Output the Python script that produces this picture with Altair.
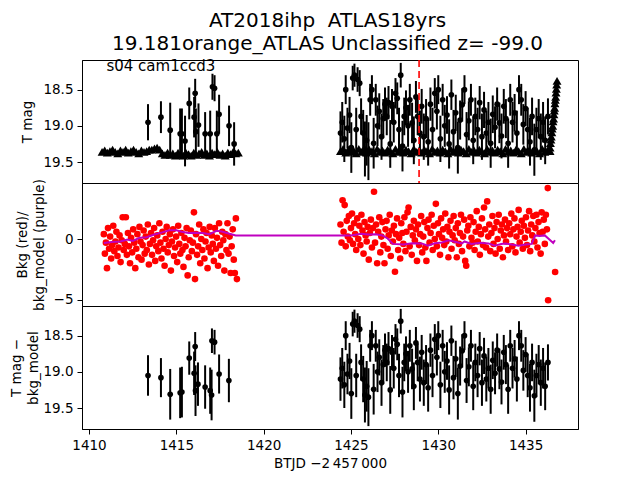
import altair as alt
import pandas as pd

FONT = "DejaVu Sans"

# ---------------- top panel: detections, first segment ----------------
top_t1 = [1413.38, 1414.12, 1414.65, 1415.22, 1415.32, 1415.50, 1415.74, 1416.02, 1416.08, 1416.12,
          1416.27, 1416.65, 1416.94, 1417.07, 1417.19, 1417.32, 1417.45, 1418.02, 1418.31]
top_mag1 = [18.95, 18.88, 19.06, 19.11, 19.11, 19.21, 18.69, 18.88, 18.55, 19.08,
            18.99, 19.11, 19.11, 18.46, 18.48, 19.11, 18.84, 19.00, 19.25]
top_err1 = [0.25, 0.22, 0.38, 0.35, 0.35, 0.35, 0.22, 0.28, 0.20, 0.32,
            0.30, 0.30, 0.32, 0.18, 0.18, 0.32, 0.27, 0.28, 0.30]

# ---------------- bottom panel: detections, first segment ----------------
bot_t1 = [1413.38, 1414.12, 1414.65, 1415.22, 1415.32, 1415.74, 1416.02, 1416.08, 1416.10, 1416.24,
          1416.65, 1416.94, 1417.02, 1417.04, 1417.19, 1417.45, 1418.01]
bot_mag1 = [19.05, 19.08, 19.31, 19.29, 19.28, 18.81, 19.02, 18.65, 19.26, 19.17,
            19.21, 19.26, 19.32, 18.57, 18.59, 19.03, 19.12]
bot_err1 = [0.28, 0.27, 0.35, 0.35, 0.35, 0.23, 0.30, 0.20, 0.35, 0.30,
            0.30, 0.32, 0.35, 0.17, 0.17, 0.27, 0.30]

# ---------------- detections, second segment (both panels) ----------------
seg2_t = [1424.40, 1424.50, 1424.62, 1424.70, 1424.80, 1424.92, 1425.02, 1425.10, 1425.20, 1425.30,
          1425.38, 1425.50, 1425.58, 1425.70, 1425.80, 1425.90, 1426.00, 1426.10, 1426.20, 1426.30,
          1426.42, 1426.52, 1426.62, 1426.75, 1426.85, 1426.95, 1427.05, 1427.15, 1427.25, 1427.35,
          1427.45, 1427.55, 1427.65, 1427.75, 1427.85, 1427.95, 1428.05, 1428.15, 1428.27, 1428.37,
          1428.50, 1428.60, 1428.72, 1428.82, 1428.95, 1429.05, 1429.17, 1429.30, 1429.42, 1429.55,
          1429.67, 1429.80, 1429.92, 1430.00, 1430.12, 1430.25, 1430.37, 1430.50, 1430.62, 1430.75,
          1430.87, 1431.00, 1431.12, 1431.25, 1431.37, 1431.50, 1431.62, 1431.75, 1431.87, 1432.00,
          1432.12, 1432.25, 1432.37, 1432.50, 1432.62, 1432.75, 1432.87, 1433.00, 1433.12, 1433.25,
          1433.37, 1433.50, 1433.62, 1433.75, 1433.87, 1434.00, 1434.12, 1434.25, 1434.37, 1434.50,
          1434.62, 1434.75, 1434.87, 1435.00, 1435.12, 1435.25, 1435.37, 1435.50, 1435.62, 1435.75,
          1435.87, 1436.00, 1436.12, 1436.28]
seg2_mag = [19.10, 18.95, 19.18, 18.50, 19.03, 18.85, 19.30, 18.34, 18.30, 19.05,
            18.36, 18.41, 18.87, 19.10, 19.32, 19.20, 19.35, 18.64, 18.50, 19.24,
            18.64, 19.00, 18.80, 19.15, 18.90, 18.70, 18.87, 18.68, 19.25, 18.73,
            18.95, 18.55, 18.62, 19.05, 18.30, 19.28, 18.87, 18.75, 19.00, 18.64,
            18.96, 19.20, 18.60, 18.87, 19.10, 18.73, 19.15, 18.90, 19.22, 18.70,
            19.05, 18.55, 18.80, 18.50, 19.18, 18.64, 19.00, 18.85, 19.25, 18.57,
            19.08, 18.82, 19.30, 18.92, 18.71, 18.50, 19.12, 18.93, 18.64, 19.20,
            18.87, 19.05, 18.68, 19.15, 18.78, 19.10, 18.95, 19.24, 18.84, 19.02,
            18.70, 18.96, 19.14, 18.73, 18.90, 19.24, 18.64, 18.95, 18.82, 19.10,
            18.50, 18.64, 18.98, 18.76, 19.05, 19.22, 18.87, 19.33, 19.05, 18.90,
            19.15, 18.95, 19.20, 18.87]
seg2_err = [0.30, 0.28, 0.32, 0.20, 0.28, 0.25, 0.35, 0.17, 0.16, 0.30,
            0.17, 0.18, 0.25, 0.32, 0.38, 0.35, 0.40, 0.22, 0.20, 0.35,
            0.22, 0.28, 0.25, 0.32, 0.27, 0.23, 0.26, 0.23, 0.33, 0.24,
            0.28, 0.21, 0.22, 0.30, 0.17, 0.35, 0.26, 0.24, 0.29, 0.22,
            0.28, 0.33, 0.22, 0.26, 0.31, 0.24, 0.32, 0.27, 0.33, 0.23,
            0.30, 0.21, 0.25, 0.20, 0.32, 0.22, 0.29, 0.26, 0.34, 0.21,
            0.30, 0.25, 0.36, 0.27, 0.23, 0.20, 0.31, 0.27, 0.22, 0.33,
            0.26, 0.30, 0.23, 0.32, 0.25, 0.31, 0.28, 0.34, 0.26, 0.29,
            0.23, 0.28, 0.31, 0.24, 0.27, 0.34, 0.22, 0.28, 0.26, 0.31,
            0.20, 0.22, 0.28, 0.24, 0.30, 0.33, 0.26, 0.36, 0.30, 0.27,
            0.32, 0.28, 0.33, 0.25]

# ---------------- top panel: limit markers ----------------
lim_t1 = [1410.75, 1410.90, 1411.05, 1411.20, 1411.35, 1411.50, 1411.65, 1411.80, 1411.95, 1412.10,
          1412.25, 1412.40, 1412.55, 1412.70, 1412.85, 1413.00, 1413.15, 1413.30, 1413.45, 1413.60,
          1413.75, 1413.90, 1414.05, 1414.20, 1414.35, 1414.50, 1414.65, 1414.80, 1414.95, 1415.10,
          1415.25, 1415.40, 1415.55, 1415.70, 1415.85, 1416.00, 1416.15, 1416.30, 1416.45, 1416.60,
          1416.75, 1416.90, 1417.05, 1417.20, 1417.35, 1417.50, 1417.65, 1417.80, 1417.95, 1418.10,
          1418.25, 1418.40, 1418.55]
lim_mag1 = [19.36, 19.34, 19.37, 19.35, 19.33, 19.36, 19.38, 19.34, 19.36, 19.33,
            19.37, 19.35, 19.33, 19.36, 19.38, 19.34, 19.36, 19.35, 19.33, 19.33,
            19.31, 19.30, 19.33, 19.38, 19.40, 19.37, 19.40, 19.38, 19.41, 19.37,
            19.39, 19.41, 19.37, 19.39, 19.41, 19.37, 19.40, 19.38, 19.36, 19.40,
            19.38, 19.41, 19.37, 19.39, 19.36, 19.40, 19.38, 19.41, 19.37, 19.39,
            19.36, 19.38, 19.37]
lim_t2 = [1424.40, 1424.55, 1424.70, 1424.85, 1425.00, 1425.15, 1425.30, 1425.45, 1425.60, 1425.75,
          1425.90, 1426.05, 1426.20, 1426.35, 1426.50, 1426.65, 1426.80, 1426.95, 1427.10, 1427.25,
          1427.40, 1427.55, 1427.70, 1427.85, 1428.00, 1428.15, 1428.30, 1428.45, 1428.60, 1428.75,
          1428.90, 1429.05, 1429.20, 1429.35, 1429.50, 1429.65, 1429.80, 1429.95, 1430.10, 1430.25,
          1430.40, 1430.55, 1430.70, 1430.85, 1431.00, 1431.15, 1431.30, 1431.45, 1431.60, 1431.75,
          1431.90, 1432.05, 1432.20, 1432.35, 1432.50, 1432.65, 1432.80, 1432.95, 1433.10, 1433.25,
          1433.40, 1433.55, 1433.70, 1433.85, 1434.00, 1434.15, 1434.30, 1434.45, 1434.60, 1434.75,
          1434.90, 1435.05, 1435.20, 1435.35, 1435.50, 1435.65, 1435.80, 1435.95, 1436.10, 1436.25,
          1436.40]
lim_mag2 = [19.35, 19.32, 19.37, 19.33, 19.36, 19.34, 19.38, 19.32, 19.36, 19.34,
            19.37, 19.33, 19.35, 19.38, 19.32, 19.36, 19.34, 19.37, 19.33, 19.35,
            19.38, 19.32, 19.36, 19.34, 19.37, 19.33, 19.35, 19.38, 19.32, 19.36,
            19.34, 19.37, 19.33, 19.35, 19.38, 19.32, 19.36, 19.34, 19.37, 19.33,
            19.35, 19.38, 19.32, 19.36, 19.34, 19.37, 19.33, 19.35, 19.38, 19.32,
            19.36, 19.34, 19.37, 19.33, 19.35, 19.38, 19.32, 19.36, 19.34, 19.37,
            19.33, 19.35, 19.38, 19.32, 19.36, 19.34, 19.37, 19.33, 19.35, 19.38,
            19.32, 19.36, 19.34, 19.37, 19.33, 19.35, 19.38, 19.32, 19.36, 19.34,
            19.35]
stack_t = [1436.40, 1436.42, 1436.45, 1436.47, 1436.50, 1436.52, 1436.55, 1436.57, 1436.60, 1436.62,
           1436.64, 1436.66, 1436.68, 1436.70, 1436.72, 1436.74, 1436.76, 1436.78, 1436.80]
stack_mag = [19.30, 19.24, 19.19, 19.15, 19.09, 19.04, 19.00, 18.94, 18.90, 18.84,
             18.79, 18.75, 18.69, 18.64, 18.60, 18.54, 18.49, 18.43, 18.38]

# ---------------- middle panel: background (red) ----------------
bkg_t1 = [1410.85, 1410.91, 1410.97,
          1411.03, 1411.09, 1411.15, 1411.21, 1411.27, 1411.33, 1411.39, 1411.45, 1411.51, 1411.57,
          1411.63, 1411.69, 1411.75, 1411.81, 1411.87, 1411.93, 1411.99,
          1412.05, 1412.11, 1412.17, 1412.23, 1412.29, 1412.35, 1412.41, 1412.47, 1412.53, 1412.59,
          1412.65, 1412.71, 1412.77, 1412.83, 1412.89, 1412.95,
          1413.01, 1413.07, 1413.13, 1413.19, 1413.25, 1413.31, 1413.37, 1413.43, 1413.49, 1413.55,
          1413.61, 1413.67, 1413.73, 1413.79, 1413.85, 1413.91, 1413.97,
          1414.03, 1414.09, 1414.15, 1414.21, 1414.27, 1414.33, 1414.39, 1414.45, 1414.51, 1414.57,
          1414.63, 1414.69, 1414.75, 1414.81, 1414.87, 1414.93, 1414.99,
          1415.05, 1415.11, 1415.17, 1415.23, 1415.29, 1415.35, 1415.41, 1415.47, 1415.53, 1415.59,
          1415.65, 1415.71, 1415.77, 1415.83, 1415.89, 1415.95,
          1416.01, 1416.07, 1416.13, 1416.19, 1416.25, 1416.31, 1416.37, 1416.43, 1416.49, 1416.55,
          1416.61, 1416.67, 1416.73, 1416.79, 1416.85, 1416.91, 1416.97,
          1417.03, 1417.09, 1417.15, 1417.21, 1417.27, 1417.33, 1417.39, 1417.45, 1417.51, 1417.57,
          1417.63, 1417.69, 1417.75, 1417.81, 1417.87, 1417.93, 1417.99,
          1418.05, 1418.11, 1418.17, 1418.23, 1418.29, 1418.35, 1418.41, 1418.47]
bkg_v1 = [0.4, -1.2, -0.3,
          -2.4, 0.9, -0.8, 0.2, -1.6, -0.5, 1.1, -1.0, -0.2, 0.6, -1.4, -0.7, 0.3, -1.9, -0.1, 1.8, -0.9,
          -0.4, 1.8, -1.3, 0.5, -0.6, -2.0, 0.1, -1.1, 0.8, -0.3, -2.4, -0.8, 0.4, -1.5, 1.0, -0.2,
          -1.7, -0.5, 0.7, -1.2, 0.2, -0.9, 1.2, -2.1, -0.4, 0.5, -1.3, -0.1, 0.9, -1.8, -0.6, 0.3, -1.0,
          1.3, -0.3, -1.6, 0.6, -0.8, -2.2, 0.0, 1.0, -1.1, -0.5, 0.4, -2.6, -0.2, 0.8, -1.4, -0.7, 0.2,
          -1.9, 1.1, -0.4, -1.2, 0.5, -0.9, -2.3, 0.1, -0.6, 0.9, -3.0, -1.5, -0.1, 0.7, -1.0, -0.3,
          2.2, -3.3, 0.4, -1.3, -0.6, 1.2, -2.0, 0.0, -0.9, 0.8, -1.6, -0.2, 0.5, -2.4, -0.7, 1.0, -1.1,
          0.3, -0.4, -1.8, 0.9, -0.8, 0.1, -2.2, 1.3, -0.5, -1.4, 0.6, -0.1, -2.6, 0.4, -0.9, 1.3, -1.2,
          0.2, -2.8, -0.6, 0.8, -1.7, -2.8, 1.7, -3.3]
bkg_t2 = [1424.40, 1424.46, 1424.52, 1424.58, 1424.64, 1424.70, 1424.76, 1424.82, 1424.88, 1424.94,
          1425.00, 1425.06, 1425.12, 1425.18, 1425.24, 1425.30, 1425.36, 1425.42, 1425.48, 1425.54,
          1425.60, 1425.66, 1425.72, 1425.78, 1425.84, 1425.90, 1425.96,
          1426.02, 1426.08, 1426.14, 1426.20, 1426.26, 1426.32, 1426.38, 1426.44, 1426.50, 1426.56,
          1426.62, 1426.68, 1426.74, 1426.80, 1426.86, 1426.92, 1426.98,
          1427.04, 1427.10, 1427.16, 1427.22, 1427.28, 1427.34, 1427.40, 1427.46, 1427.52, 1427.58,
          1427.64, 1427.70, 1427.76, 1427.82, 1427.88, 1427.94,
          1428.00, 1428.06, 1428.12, 1428.18, 1428.24, 1428.30, 1428.36, 1428.42, 1428.48, 1428.54,
          1428.60, 1428.66, 1428.72, 1428.78, 1428.84, 1428.90, 1428.96,
          1429.02, 1429.08, 1429.14, 1429.20, 1429.26, 1429.32, 1429.38, 1429.44, 1429.50, 1429.56,
          1429.62, 1429.68, 1429.74, 1429.80, 1429.86, 1429.92, 1429.98,
          1430.04, 1430.10, 1430.16, 1430.22, 1430.28, 1430.34, 1430.40, 1430.46, 1430.52, 1430.58,
          1430.64, 1430.70, 1430.76, 1430.82, 1430.88, 1430.94,
          1431.00, 1431.06, 1431.12, 1431.18, 1431.24, 1431.30, 1431.36, 1431.42, 1431.48, 1431.54,
          1431.60, 1431.66, 1431.72, 1431.78, 1431.84, 1431.90, 1431.96,
          1432.02, 1432.08, 1432.14, 1432.20, 1432.26, 1432.32, 1432.38, 1432.44, 1432.50, 1432.56,
          1432.62, 1432.68, 1432.74, 1432.80, 1432.86, 1432.92, 1432.98,
          1433.04, 1433.10, 1433.16, 1433.22, 1433.28, 1433.34, 1433.40, 1433.46, 1433.52, 1433.58,
          1433.64, 1433.70, 1433.76, 1433.82, 1433.88, 1433.94,
          1434.00, 1434.06, 1434.12, 1434.18, 1434.24, 1434.30, 1434.36, 1434.42, 1434.48, 1434.54,
          1434.60, 1434.66, 1434.72, 1434.78, 1434.84, 1434.90, 1434.96,
          1435.02, 1435.08, 1435.14, 1435.20, 1435.26, 1435.32, 1435.38, 1435.44, 1435.50, 1435.56,
          1435.62, 1435.68, 1435.74, 1435.80, 1435.86, 1435.92, 1435.98,
          1436.04, 1436.10, 1436.16, 1436.22, 1436.27, 1436.29, 1436.69]
bkg_v2 = [1.2, -0.3, 3.2, 0.6, 2.8, -0.6, 1.5, 0.2, 1.9, -0.1,
          0.9, 2.1, -0.4, 1.3, 0.4, -0.9, 1.7, 0.0, 1.1, -0.5, 2.0, 0.7, -1.2, 1.4, 0.3, -0.2, 1.0,
          -1.7, 0.5, 1.6, -0.7, 0.9, 3.9, -0.3, 1.2, -2.0, 0.6, 1.8, -1.1, 0.2, 1.4, -0.5, -2.0, 0.8,
          1.5, -0.8, 0.3, 2.0, -1.4, 0.7, -0.2, 1.1, -2.7, 0.4, 1.7, -0.9, 0.1, -1.6, 1.3, 0.5,
          -0.4, 1.8, -1.0, 0.6, 2.2, 2.6, -0.6, 1.0, -1.3, 0.3, 1.5, -0.1, 0.8, -1.8, 1.2, -0.5, 0.4,
          1.9, -1.1, 0.2, 1.4, -0.7, -1.8, 0.9, 1.6, -0.3, 0.5, 2.0, -0.9, 1.1, 0.0, 2.9, -0.6, 1.3,
          0.4, -1.3, 1.7, 0.1, 0.8, -0.5, 2.1, -0.2, 1.0, -1.5, 0.6, 1.5, -0.8, 0.3, 1.9, -0.1,
          0.9, -1.5, 1.3, -0.4, 0.5, 2.0, -1.0, 0.2, 1.6, -1.8, -2.2, 0.7, 1.1, -0.6, 1.8, 0.1, -0.3,
          1.4, -0.9, 0.6, 2.3, -0.2, 1.0, -1.3, 0.4, 1.7, -0.5, 2.6, 0.8, -0.7, 3.1, 0.2, 1.2, -1.0,
          0.5, 1.9, -0.4, 0.9, -1.2, 1.4, 0.0, 2.0, -0.8, 0.7, 1.2, -1.5, 0.3, 1.6, -0.2, 0.9,
          -0.9, 1.3, 0.4, 2.1, -0.6, 0.8, 1.7, -1.1, 0.2, 1.0, 2.4, -0.3, 0.6, 1.5, -0.8, 1.1, 0.1,
          1.8, -0.5, 0.7, 2.3, -1.0, 1.2, 0.3, 1.9, -0.2, 0.9, 2.0, -0.7, 1.4, 0.5, -1.2, 2.2, 0.6,
          1.6, -0.4, 2.0, 0.8, 4.2, -5.05, -2.72]

# ---------------- middle panel: background model (purple) ----------------
model_t = [1410.85, 1411.3, 1411.8, 1412.2, 1412.5, 1412.9, 1413.3, 1413.7, 1414.2, 1414.6,
           1415.0, 1415.3, 1415.7, 1416.1, 1416.5, 1416.9, 1417.3, 1417.6, 1418.0, 1418.4,
           1424.4, 1425.0, 1425.6, 1426.0, 1426.4, 1426.8, 1427.1, 1427.4, 1428.0, 1428.5,
           1429.05, 1429.4, 1429.8, 1430.2, 1430.6, 1431.0, 1431.35, 1431.5, 1431.9, 1432.4,
           1432.87, 1433.25, 1433.6, 1433.85, 1434.2, 1434.6, 1435.0, 1435.35, 1435.55, 1435.8,
           1436.1, 1436.3, 1436.58, 1436.68]
model_v = [-0.33, -0.25, -0.2, -0.05, -0.15, 0.1, 0.15, 0.35, 0.55, 0.72,
           0.72, 0.6, 0.5, 0.52, 0.5, 0.4, 0.68, 0.62, 0.45, 0.3,
           0.3, 0.3, 0.43, 0.38, 0.4, 0.3, 0.05, -0.4, -0.45, -0.35,
           -0.36, -0.55, -0.35, -0.28, -0.1, -0.25, -0.37, -0.2, -0.4, -0.3,
           -0.36, -0.55, -0.4, -0.37, -0.45, -0.55, -0.45, -0.4, 0.3, 0.25,
           0.3, 0.05, -0.32, -0.1]

peak_t = [1428.9]
label_text = ["s04 cam1ccd3"]
label_t = [1411.0]
label_mag = [18.17]

# ---------------- tables ----------------
top_det = pd.DataFrame({"t": top_t1 + seg2_t, "mag": top_mag1 + seg2_mag, "err": top_err1 + seg2_err})
bot_det = pd.DataFrame({"t": bot_t1 + seg2_t, "mag": bot_mag1 + seg2_mag, "err": bot_err1 + seg2_err})
lims = pd.DataFrame({"t": lim_t1 + lim_t2 + stack_t, "mag": lim_mag1 + lim_mag2 + stack_mag})
bkg = pd.DataFrame({"t": bkg_t1 + bkg_t2, "v": bkg_v1 + bkg_v2})
model = pd.DataFrame({"t": model_t, "v": model_v})
peak = pd.DataFrame({"t": peak_t})
label = pd.DataFrame({"t": label_t, "mag": label_mag, "text": label_text})

W, H = 496, 123
xs = alt.Scale(domain=[1409.6, 1438.0], nice=False, zero=False)
ms = alt.Scale(domain=[18.09, 19.79], reverse=True, nice=False, zero=False)
bs = alt.Scale(domain=[-5.52, 4.62], nice=False, zero=False)

x_hidden = alt.Axis(labels=False, ticks=False, domain=False, title=None, grid=False)
x_bottom = alt.Axis(values=[1410, 1415, 1420, 1425, 1430, 1435], format="d",
                    title="BTJD \u22122\u2009457\u2009000", grid=False, labelPadding=4,
                    tickSize=5, titlePadding=5)


def yaxis(values, fmt, title, tx):
    return alt.Axis(values=values, format=fmt, title=title, grid=False, titleX=tx,
                    titleY=H / 2, titleAngle=270, titleAlign="center",
                    titleBaseline="middle", titleLineHeight=17, tickSize=5, labelPadding=4)


def X(axis):
    return alt.X("t:Q", scale=xs, axis=axis)


def mag_panel(det, xaxis, yax, extra=None):
    base = alt.Chart(det)
    bars = base.transform_calculate(
        lo="datum.mag - datum.err", hi="datum.mag + datum.err"
    ).mark_rule(color="black", strokeWidth=2).encode(
        x=X(xaxis), y=alt.Y("lo:Q", scale=ms, axis=yax), y2="hi:Q")
    pts = base.mark_circle(size=32, color="black", opacity=1).encode(
        x=X(xaxis), y=alt.Y("mag:Q", scale=ms, axis=yax))
    layers = [bars, pts]
    if extra:
        layers = extra(xaxis, yax) + layers
    return alt.layer(*layers).properties(width=W, height=H)


top_yax = yaxis([18.5, 19.0, 19.5], ".1f", "T mag", -55)
bot_yax = yaxis([18.5, 19.0, 19.5], ".1f", ["T mag \u2212", "bkg_model"], -66)
mid_yax = yaxis([-5, 0], "d", ["Bkg (red)/", "bkg_model (purple)"], -60)


def top_extra(xaxis, yax):
    lim_layer = alt.Chart(lims).mark_point(shape="triangle-up", filled=True, size=80,
                                           color="black", opacity=1).encode(
        x=X(xaxis), y=alt.Y("mag:Q", scale=ms, axis=yax))
    return [lim_layer]


top_core = mag_panel(top_det, x_hidden, top_yax, top_extra)
peak_rule = alt.Chart(peak).mark_rule(color="red", strokeDash=[7, 4], strokeWidth=1.6).encode(
    x=X(x_hidden))
label_mark = alt.Chart(label).mark_text(align="left", baseline="middle", fontSize=15,
                                        font=FONT, color="black").encode(
    x=X(x_hidden), y=alt.Y("mag:Q", scale=ms, axis=top_yax), text="text:N")
top = alt.layer(top_core, peak_rule, label_mark).properties(width=W, height=H)

mid_pts = alt.Chart(bkg).mark_circle(size=44, color="red", opacity=1).encode(
    x=X(x_hidden), y=alt.Y("v:Q", scale=bs, axis=mid_yax))
mid_line = alt.Chart(model).mark_line(color="#bf00bf", strokeWidth=2).encode(
    x=X(x_hidden), y=alt.Y("v:Q", scale=bs, axis=mid_yax))
mid = alt.layer(mid_pts, mid_line).properties(width=W, height=H)

bot = mag_panel(bot_det, x_bottom, bot_yax)

chart = alt.vconcat(top, mid, bot, spacing=0, bounds="flush").properties(
    title=alt.TitleParams(
        ["AT2018ihp \u00a0ATLAS18yrs", "19.181orange_ATLAS Unclassified z= -99.0"],
        fontSize=20, font=FONT, fontWeight="normal", color="black",
        anchor="middle", lineHeight=23, offset=4, dx=34),
    padding={"left": 0, "top": 3, "right": 5, "bottom": 5},
).configure_view(stroke="black", strokeWidth=1).configure_axis(
    labelFont=FONT, titleFont=FONT, labelFontSize=13.5, titleFontSize=13.5,
    titleFontWeight="normal", labelColor="black", titleColor="black",
    tickColor="black", domainColor="black", grid=False)

chart.save("out.html", embed_options={"renderer": "svg", "actions": False})
